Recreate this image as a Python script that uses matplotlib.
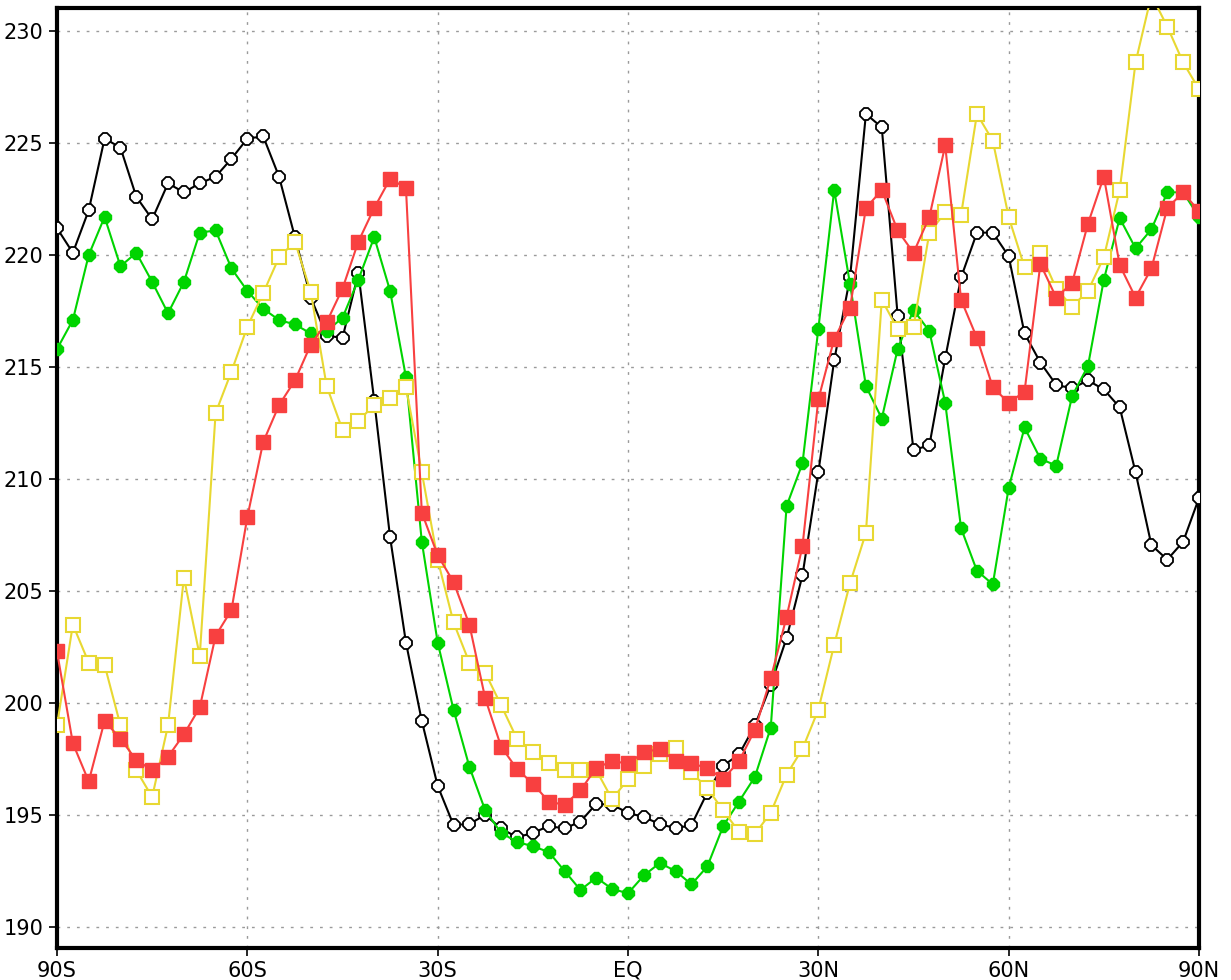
import numpy as np
import matplotlib
matplotlib.use("Agg")
import matplotlib.pyplot as plt

# Latitude grid: 90S .. 90N every 2.5 degrees
lat = np.arange(-90, 90.01, 2.5)

black_vals = [221.2, 220.1, 222.0, 225.2, 224.8, 222.6, 221.6, 223.2, 222.8, 223.2,
              223.5, 224.3, 225.2, 225.3, 223.5, 220.8, 218.1, 216.4, 216.3, 219.2,
              213.5, 207.4, 202.7, 199.2, 196.3, 194.55, 194.6, 195.0, 194.4, 194.0,
              194.2, 194.5, 194.4, 194.7, 195.5, 195.45, 195.1, 194.9, 194.6, 194.4,
              194.55, 196.0, 197.2, 197.7, 199.0, 200.8, 202.9, 205.7, 210.3, 215.3,
              219.0, 226.3, 225.7, 217.3, 211.3, 211.5, 215.4, 219.0, 221.0, 221.0,
              219.95, 216.5, 215.2, 214.2, 214.05, 214.4, 214.0, 213.2, 210.3, 207.05,
              206.4, 207.2, 209.15]

green_vals = [215.8, 217.1, 220.0, 221.7, 219.5, 220.1, 218.8, 217.4, 218.8, 221.0,
              221.1, 219.4, 218.4, 217.6, 217.1, 216.9, 216.5, 216.6, 217.2, 218.9,
              220.8, 218.4, 214.55, 207.2, 202.7, 199.7, 197.15, 195.2, 194.2, 193.8,
              193.6, 193.35, 192.5, 191.65, 192.2, 191.7, 191.5, 192.3, 192.85, 192.5,
              191.9, 192.7, 194.5, 195.6, 196.7, 198.9, 208.8, 210.7, 216.7, 222.9,
              218.7, 214.15, 212.7, 215.8, 217.55, 216.6, 213.4, 207.8, 205.9, 205.3,
              209.6, 212.3, 210.9, 210.6, 213.7, 215.05, 218.9, 221.65, 220.3, 221.15,
              222.8, 222.8, 221.7]

red_vals = [202.3, 198.2, 196.5, 199.2, 198.4, 197.45, 197.0, 197.6, 198.6, 199.8,
            203.0, 204.15, 208.3, 211.65, 213.3, 214.4, 216.0, 217.0, 218.5, 220.6,
            222.1, 223.4, 223.0, 208.5, 206.6, 205.4, 203.5, 200.2, 198.05, 197.05,
            196.4, 195.6, 195.45, 196.1, 197.1, 197.4, 197.3, 197.8, 197.95, 197.4,
            197.3, 197.1, 196.6, 197.4, 198.8, 201.1, 203.85, 207.0, 213.55, 216.25,
            217.65, 222.1, 222.9, 221.1, 220.1, 221.7, 224.9, 218.0, 216.3, 214.1,
            213.4, 213.9, 219.6, 218.1, 218.75, 221.4, 223.5, 219.55, 218.1, 219.4,
            222.1, 222.8, 221.95]

yellow_vals = [199.0, 203.5, 201.8, 201.7, 199.0, 197.0, 195.8, 199.0, 205.6, 202.1,
               212.95, 214.8, 216.8, 218.3, 219.9, 220.6, 218.35, 214.15, 212.2, 212.6,
               213.3, 213.6, 214.1, 210.3, 206.4, 203.6, 201.8, 201.35, 199.9, 198.4,
               197.8, 197.3, 197.0, 197.0, 197.0, 195.7, 196.6, 197.2, 197.7, 198.0,
               196.9, 196.2, 195.2, 194.25, 194.15, 195.1, 196.8, 197.95, 199.7, 202.6,
               205.35, 207.6, 218.0, 216.7, 216.8, 221.0, 221.9, 221.8, 226.3, 225.1,
               221.7, 219.45, 220.1, 218.5, 217.7, 218.4, 219.9, 222.9, 228.6, 231.6,
               230.2, 228.6, 227.4]

x_ticks = [-90, -60, -30, 0, 30, 60, 90]
x_labels = ["90S", "60S", "30S", "EQ", "30N", "60N", "90N"]
y_ticks = [190, 195, 200, 205, 210, 215, 220, 225, 230]

plt.rcParams['font.family'] = ['Liberation Sans Narrow', 'DejaVu Sans']

fig = plt.figure(figsize=(12.31, 9.80), dpi=100)
ax = fig.add_axes([57 / 1231, 1 - 948 / 980, (1199 - 57) / 1231, (948 - 8) / 980])

ax.set_xlim(-90, 90)
ax.set_ylim(189.06, 231.03)

grid_style = dict(color='#9a9a9a', linewidth=1.0, linestyle=(0, (2, 5)))
ax.grid(True, **grid_style)
ax.set_axisbelow(True)

ax.plot(lat, black_vals, color='black', lw=1.5, marker='8', ms=9,
        mfc='white', mec='black', mew=1.3, zorder=3)
ax.plot(lat, green_vals, color='#00d400', lw=1.5, marker='8', ms=9,
        mfc='#00d400', mec='#00d400', zorder=4)
ax.plot(lat, yellow_vals, color='#e8d832', lw=1.5, marker='s', ms=10,
        mfc='white', mec='#e8d832', mew=1.5, zorder=5)
ax.plot(lat, red_vals, color='#f84040', lw=1.5, marker='s', ms=10,
        mfc='#f84040', mec='#f84040', zorder=6)

ax.set_xticks(x_ticks)
ax.set_xticklabels(x_labels)
ax.set_yticks(y_ticks)
ax.set_yticklabels([str(v) for v in y_ticks])
ax.tick_params(axis='both', direction='out', length=6, width=1.2,
               labelsize=15, colors='black')
ax.tick_params(axis='x', pad=3)
ax.tick_params(axis='y', pad=4)

for side in ['left', 'right', 'top', 'bottom']:
    ax.spines[side].set_linewidth(3)
    ax.spines[side].set_color('black')

fig.savefig('out.png', dpi=100)
